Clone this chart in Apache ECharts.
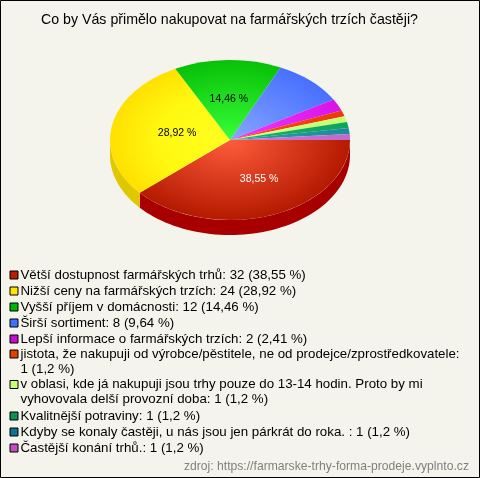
<!DOCTYPE html>
<html><head><meta charset="utf-8">
<style>html,body{margin:0;padding:0;background:#f5f4ec}#c{width:480px;height:478px}</style>
<script src="https://cdn.jsdelivr.net/npm/echarts@6/dist/echarts.min.js"></script></head>
<body><div id="c"></div>
<script>
const titleText = 'Co by Vás přimělo nakupovat na farmářských trzích častěji?';
const sourceText = 'zdroj: https://farmarske-trhy-forma-prodeje.vyplnto.cz';
const names = ['Větší dostupnost farmářských trhů','Nižší ceny na farmářských trzích','Vyšší příjem v domácnosti','Širší sortiment','Lepší informace o farmářských trzích','jistota, že nakupuji od výrobce/pěstitele, ne od prodejce/zprostředkovatele','v oblasi, kde já nakupuji jsou trhy pouze do 13-14 hodin. Proto by mi vyhovovala delší provozní doba','Kvalitnější potraviny','Kdyby se konaly častěji, u nás jsou jen párkrát do roka. ','Častější konání trhů.'];
const values = [32,24,12,8,2,1,1,1,1,1];
const percents = ['38,55','28,92','14,46','9,64','2,41','1,2','1,2','1,2','1,2','1,2'];
const innerColors = ['#ff5c3c','#ffff22','#38ff38','#86a6ff','#f238ff','#ff4a14','#d4ff88','#14b46a','#2a9cac','#cc7cd8'];
const outerColors = ['#b41a00','#ffe000','#08c008','#4870ff','#d814e8','#ea3c08','#c4ff70','#0ea45c','#1c8c9c','#c068cc'];
const sideColors = ['#a80000','#e0c800','#00a000','#3858c8','#a010b0','#b03000','#98c850','#087840','#106878','#905098'];
const legendColors = ['#b42000','#ffe800','#00b400','#4070ff','#c010d0','#e04000','#c8ff70','#109050','#107090','#c050c0'];
// Where a legend text wraps: first line ends before this text, the rest goes on a second line.
const wrapBefore = [null,null,null,null,null,'1 (1,2 %)',' vyhovovala',null,null,null];
const labelMinPercent = 10;

const cx = 230, cy = 140, rx = 120, ry = 80, depth = 15;
const labelNudge = {0:[8,1.5],1:[6,1],2:[0,-1]};
const total = values.reduce((a,b)=>a+b,0);
const starts = []; let acc = 0;
values.forEach(v=>{starts.push(acc/total*Math.PI*2); acc+=v;});
const ends = values.map((v,i)=>starts[i]+v/total*Math.PI*2);

// legend lines: a slice's full text, split in two entries where it wraps
const firstLines = [], secondLines = [];
names.forEach((n,i)=>{
  const full = n + ': ' + values[i] + ' (' + percents[i] + ' %)';
  const w = wrapBefore[i];
  if (!w) { firstLines.push(full); secondLines.push(null); return; }
  const at = full.indexOf(w);
  firstLines.push(full.slice(0,at).trim());
  secondLines.push(full.slice(at).trim());
});

const sideSeries = {
  type:'custom', coordinateSystem:'none', z:1, silent:true, animation:false,
  data: values.map((v,i)=>i),
  renderItem(p, api){
    const i = p.dataIndex;
    const a0 = starts[i], a1 = Math.min(ends[i], Math.PI);
    if (a0 >= Math.PI) return {type:'group',children:[]};
    const top=[], bottom=[];
    const n = 60;
    for(let k=0;k<=n;k++){
      const a=a0+(a1-a0)*k/n;
      const x=cx+rx*Math.cos(a), y=cy+ry*Math.sin(a);
      top.push([x,y]); bottom.unshift([x,y+depth]);
    }
    return {type:'polygon',shape:{points:top.concat(bottom)},style:{fill:sideColors[i]}};
  }
};
const sliceSeries = values.map((v,i)=>({
  type:'custom', name:firstLines[i], coordinateSystem:'none', z:2, silent:true, animation:false,
  itemStyle:{color:legendColors[i]},
  data:[v],
  renderItem(){
    const mid=(starts[i]+ends[i])/2;
    const stops=[{offset:0,color:innerColors[i]},{offset:1,color:outerColors[i]}];
    if (i===1) stops.splice(1,0,{offset:0.6,color:'#fff810'});
    const kids=[{type:'group',x:cx,y:cy,scaleY:ry/rx,children:[{
      type:'sector',
      shape:{cx:0,cy:0,r0:0,r:rx,startAngle:starts[i],endAngle:ends[i],clockwise:true},
      style:{fill:{type:'radial',x:0,y:0,r:rx,global:true,colorStops:stops}}
    }]}];
    if (v/total*100 >= labelMinPercent) kids.push({
      type:'text',z2:10,
      style:{x:cx+0.5*rx*Math.cos(mid)+labelNudge[i][0],y:cy+0.5*ry*Math.sin(mid)+labelNudge[i][1],text:percents[i]+' %',
        align:'center',verticalAlign:'middle',font:'10.5px "Liberation Sans"',fill:i===0?'#fff':'#000'}
    });
    return {type:'group',children:kids};
  }
}));
// second legend lines: entries without a swatch
const contSeries = secondLines.filter(Boolean).map(t=>({type:'custom',name:t,coordinateSystem:'none',silent:true,data:[],renderItem(){return null;}}));

const legendData = [];
names.forEach((n,i)=>{
  legendData.push({name:firstLines[i],icon:'rect',
    itemStyle:{color:legendColors[i],borderColor:'#000',borderWidth:1},
    textStyle:{lineHeight:secondLines[i]?14:16}});
  if (secondLines[i]) legendData.push({name:secondLines[i],icon:'none',
    itemStyle:{color:'transparent',borderWidth:0},textStyle:{lineHeight:16.5}});
});

const chart = echarts.init(document.getElementById('c'),null,{renderer:'canvas'});
chart.setOption({
  animation:false,
  backgroundColor:'#f5f4ec',
  title:{text:titleText,left:41,top:13,padding:0,
    textStyle:{fontFamily:'Liberation Sans',fontSize:14.2,fontWeight:'normal',color:'#000'}},
  legend:{
    orient:'vertical',left:9.5,top:267,padding:0,itemGap:0,itemWidth:8,itemHeight:8,
    selectedMode:false,align:'left',
    textStyle:{fontFamily:'Liberation Sans',fontSize:13.3,color:'#000',padding:[0,0,0,-2.5]},
    data:legendData
  },
  graphic:[
    {type:'rect',z:100,silent:true,shape:{x:0.5,y:0.5,width:479,height:477},style:{fill:'none',stroke:'#000',lineWidth:1}},
    {type:'text',right:11,top:461,style:{text:sourceText,font:'12.17px "Liberation Sans"',fill:'#808080'}}
  ],
  series:[sideSeries].concat(sliceSeries,contSeries)
});
</script></body></html>
